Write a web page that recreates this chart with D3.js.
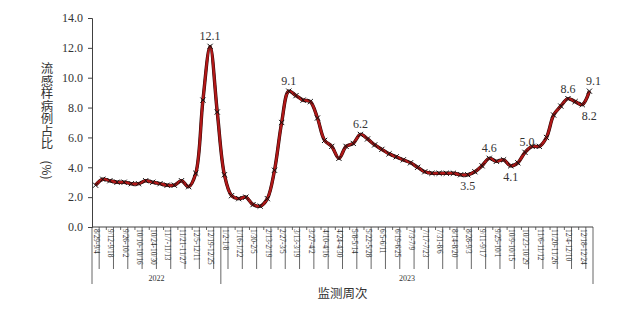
<!DOCTYPE html>
<html>
<head>
<meta charset="utf-8">
<script src="https://cdn.jsdelivr.net/npm/d3@7"></script>
<style>
  body { margin: 0; background: #fff; }
  svg { display: block; }
</style>
</head>
<body>
<svg id="chart" width="640" height="323"></svg>
<script>
// weeks shown on the x axis (Mon-Sun)
const weeks2022 = ["8/29-9/4","9/5-9/11","9/12-9/18","9/19-9/25","9/26-10/2","10/3-10/9",
  "10/10-10/16","10/17-10/23","10/24-10/30","10/31-11/6","11/7-11/13","11/14-11/20",
  "11/21-11/27","11/28-12/4","12/5-12/11","12/12-12/18","12/19-12/25","12/26-1/1"];
const weeks2023 = ["1/2-1/8","1/9-1/15","1/16-1/22","1/23-1/29","1/30-2/5","2/6-2/12",
  "2/13-2/19","2/20-2/26","2/27-3/5","3/6-3/12","3/13-3/19","3/20-3/26","3/27-4/2",
  "4/3-4/9","4/10-4/16","4/17-4/23","4/24-4/30","5/1-5/7","5/8-5/14","5/15-5/21",
  "5/22-5/28","5/29-6/4","6/5-6/11","6/12-6/18","6/19-6/25","6/26-7/2","7/3-7/9",
  "7/10-7/16","7/17-7/23","7/24-7/30","7/31-8/6","8/7-8/13","8/14-8/20","8/21-8/27",
  "8/28-9/3","9/4-9/10","9/11-9/17","9/18-9/24","9/25-10/1","10/2-10/8","10/9-10/15",
  "10/16-10/22","10/23-10/29","10/30-11/5","11/6-11/12","11/13-11/19","11/20-11/26",
  "11/27-12/3","12/4-12/10","12/11-12/17","12/18-12/24","12/25-12/31"];

// 流感样病例占比 (%)
const values2022 = [2.8,3.2,3.1,3.0,3.0,2.9,2.9,3.1,3.0,2.9,2.8,2.8,3.1,2.7,3.6,8.5,12.1,7.7];
const values2023 = [3.5,2.1,1.9,2.0,1.5,1.4,1.9,3.8,7.0,9.1,8.8,8.5,8.4,7.3,5.8,5.4,4.6,5.4,
  5.6,6.2,5.9,5.5,5.2,4.9,4.7,4.5,4.3,4.0,3.7,3.6,3.6,3.6,3.6,3.5,3.5,3.7,4.1,4.6,4.4,4.5,
  4.1,4.3,5.0,5.4,5.4,6.0,7.5,8.1,8.6,8.4,8.2,9.1];

const years = ["2022","2023"];
const yTicks = [0,2,4,6,8,10,12,14];

// points that carry a value label
const labelledWeeks = ["12/19-12/25","3/6-3/12","5/15-5/21","8/28-9/3","9/18-9/24",
  "10/9-10/15","10/23-10/29","12/4-12/10","12/18-12/24","12/25-12/31"];
const labelsBelow = ["8/28-9/3","10/9-10/15","12/18-12/24"];

const data = weeks2022.map((w,i) => ({week:w, value:values2022[i]}))
  .concat(weeks2023.map((w,i) => ({week:w, value:values2023[i]})));

const svg = d3.select("#chart");
const plotLeft = 92, plotRight = 593, plotTop = 18, plotBottom = 227;
const serif = "'Liberation Serif','DejaVu Serif',serif";
const cjk = "'Noto Sans CJK SC',sans-serif";
const axisColor = "#404040";
const textColor = "#333";

const x = d3.scaleBand()
  .domain(data.map(d => d.week))
  .range([plotLeft, plotRight]);
const bw = x.bandwidth();

const y = d3.scaleLinear()
  .domain([0,14])
  .range([plotBottom, plotTop]);

// y axis
const yAxis = svg.append("g")
  .attr("transform", "translate(" + plotLeft + ",0)")
  .call(d3.axisLeft(y).tickValues(yTicks).tickFormat(d3.format(".1f")).tickSize(4).tickPadding(5));
yAxis.select(".domain").attr("stroke", axisColor);
yAxis.selectAll(".tick line").attr("stroke", axisColor);
yAxis.selectAll("text")
  .attr("font-family", serif)
  .attr("font-size", 12)
  .attr("fill", textColor);

// x axis line + weekly ticks
svg.append("line")
  .attr("x1", plotLeft).attr("x2", plotRight)
  .attr("y1", plotBottom).attr("y2", plotBottom)
  .attr("stroke", axisColor);

const bounds = d3.range(data.length + 1).map(i => plotLeft + i * bw);
const n2022 = weeks2022.length;

svg.append("g").selectAll("line")
  .data(bounds)
  .enter().append("line")
  .attr("x1", d => d).attr("x2", d => d)
  .attr("y1", plotBottom)
  .attr("y2", (d,i) => {
    if (i === 0 || i === n2022 || i === data.length) return 284;
    return (i % 2 === 1) ? 269 : plotBottom + 3;
  })
  .attr("stroke", axisColor)
  .attr("stroke-width", 0.8);

// week labels (every second week)
svg.append("g").selectAll("text")
  .data(data.filter((d,i) => i % 2 === 0))
  .enter().append("text")
  .attr("transform", d => "translate(" + (x(d.week) + bw/2) + "," + (plotBottom + 2) + ") rotate(90)")
  .attr("dominant-baseline", "middle")
  .attr("text-anchor", "start")
  .attr("font-family", serif)
  .attr("font-size", 7.3)
  .attr("fill", textColor)
  .text(d => d.week);

// year labels
const yearSpans = [[x(weeks2022[0]), x(weeks2023[0])], [x(weeks2023[0]), plotRight]];
svg.append("g").selectAll("text")
  .data(years)
  .enter().append("text")
  .attr("x", (d,i) => (yearSpans[i][0] + yearSpans[i][1]) / 2)
  .attr("y", 281)
  .attr("text-anchor", "middle")
  .attr("font-family", serif)
  .attr("font-size", 8)
  .attr("fill", textColor)
  .text(d => d);

// axis titles
svg.append("text")
  .attr("x", (plotLeft + plotRight) / 2)
  .attr("y", 298)
  .attr("text-anchor", "middle")
  .attr("font-family", cjk)
  .attr("font-size", 12.5)
  .attr("fill", textColor)
  .text("监测周次");

// vertical title: upright characters stacked, then the rotated unit
svg.append("text")
  .attr("x", 47)
  .attr("y", 62)
  .style("writing-mode", "vertical-rl")
  .attr("font-family", cjk)
  .attr("font-size", 12.5)
  .attr("fill", textColor)
  .text("流感样病例占比");
svg.append("text")
  .attr("transform", "translate(47,170) rotate(90)")
  .attr("text-anchor", "middle")
  .attr("dominant-baseline", "central")
  .attr("font-family", cjk)
  .attr("font-size", 12)
  .attr("fill", textColor)
  .text("(%)");

// line
const line = d3.line()
  .x(d => x(d.week) + bw/2)
  .y(d => y(d.value))
  .curve(d3.curveCatmullRom.alpha(0.5));

svg.append("path")
  .datum(data)
  .attr("fill", "none")
  .attr("stroke", "#2a0000")
  .attr("stroke-width", 3.4)
  .attr("d", line);
svg.append("path")
  .datum(data)
  .attr("fill", "none")
  .attr("stroke", "#b01818")
  .attr("stroke-width", 2.4)
  .attr("d", line);

// x markers
const m = 2.6;
const markers = svg.append("g").selectAll("g")
  .data(data)
  .enter().append("g")
  .attr("transform", d => "translate(" + (x(d.week) + bw/2) + "," + y(d.value) + ")");
markers.append("path")
  .attr("d", "M" + (-m) + "," + (-m) + "L" + m + "," + m + "M" + (-m) + "," + m + "L" + m + "," + (-m))
  .attr("stroke", "#111")
  .attr("stroke-width", 1);

// value labels
const lookup = new Map(data.map(d => [d.week, d]));
const labelShift = {"10/23-10/29": 2, "12/18-12/24": 7, "12/25-12/31": 4};
svg.append("g").selectAll("text")
  .data(labelledWeeks)
  .enter().append("text")
  .attr("x", d => x(d) + bw/2 + (labelShift[d] || 0))
  .attr("y", d => y(lookup.get(d).value) + (labelsBelow.includes(d) ? 15 : -6))
  .attr("text-anchor", "middle")
  .attr("font-family", serif)
  .attr("font-size", 12)
  .attr("fill", textColor)
  .text(d => d3.format(".1f")(lookup.get(d).value));
</script>
</body>
</html>
